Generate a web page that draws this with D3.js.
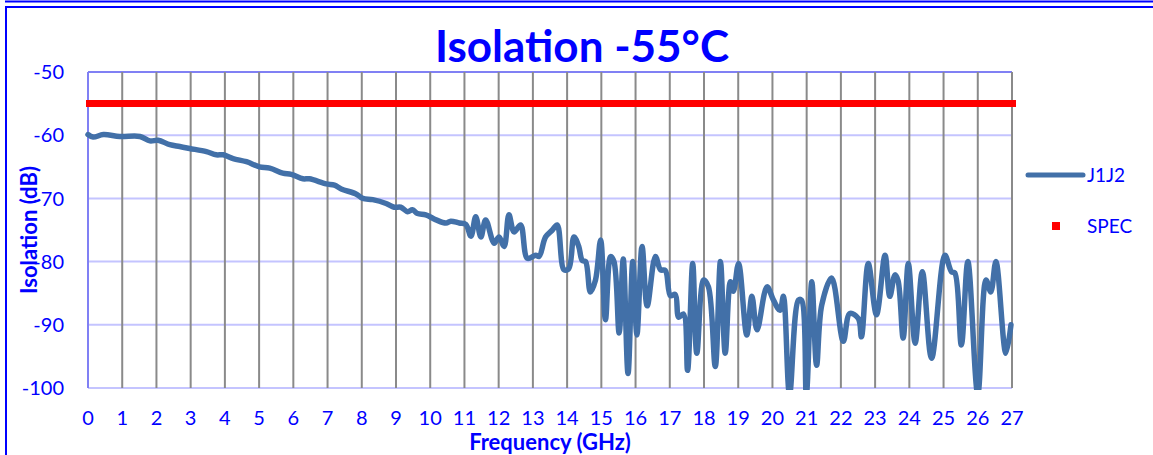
<!DOCTYPE html>
<meta charset="utf-8">
<script src="https://d3js.org/d3.v7.min.js"></script>
<style>
  body { margin: 0; background: #fff; }
  text { font-family: Lato, "Open Sans", sans-serif; fill: #0000ff; }
  .title { font-size: 44px; font-weight: bold; }
  .axis-title { font-size: 22px; font-weight: bold; }
  .tick-label { font-size: 20px; }
  .legend-label { font-size: 19px; }
</style>
<div id="chart"></div>
<script>

// Frequency points (GHz)
var freq = [0.00, 0.15, 0.45, 0.93, 1.52, 1.81, 2.05, 2.39, 2.68, 2.97,
  3.46, 3.75, 3.95, 4.24, 4.63, 5.01, 5.31, 5.69, 5.94, 6.28,
  6.47, 6.96, 7.20, 7.40, 7.83, 8.03, 8.32, 8.71, 8.95, 9.14,
  9.34, 9.48, 9.63, 9.87, 10.17, 10.46, 10.60, 10.85, 11.04, 11.19,
  11.33, 11.48, 11.62, 11.87, 12.01, 12.16, 12.30, 12.45, 12.64, 12.84,
  13.08, 13.18, 13.37, 13.57, 13.71, 13.91, 14.05, 14.20, 14.34, 14.44,
  14.54, 14.68, 14.83, 14.98, 15.12, 15.27, 15.37, 15.52, 15.64, 15.78,
  15.92, 16.04, 16.19, 16.34, 16.58, 16.73, 16.87, 17.02, 17.16, 17.26,
  17.40, 17.52, 17.67, 17.79, 17.99, 18.13, 18.33, 18.48, 18.62, 18.77,
  18.86, 19.01, 19.25, 19.40, 19.55, 19.84, 20.03, 20.22, 20.32, 20.50,
  20.76, 20.85, 20.99, 21.15, 21.29, 21.44, 21.73, 22.07, 22.26, 22.51,
  22.60, 22.80, 23.04, 23.29, 23.43, 23.58, 23.67, 23.82, 23.97, 24.17,
  24.38, 24.65, 25.04, 25.23, 25.33, 25.52, 25.71, 26.00, 26.24, 26.38,
  26.53, 26.82, 26.97];

// J1J2 isolation (dB)
var j1j2 = [-59.9, -60.3, -59.9, -60.2, -60.2, -60.9, -60.8, -61.5, -61.8, -62.1,
  -62.6, -63.1, -63.1, -63.7, -64.2, -65.0, -65.2, -66.0, -66.2, -66.9,
  -66.9, -67.7, -67.9, -68.5, -69.3, -70.0, -70.2, -70.8, -71.4, -71.4,
  -72.1, -71.8, -72.4, -72.6, -73.4, -73.9, -73.6, -73.9, -74.1, -76.0,
  -72.9, -76.1, -73.4, -77.1, -76.1, -77.6, -72.6, -75.3, -74.2, -79.5,
  -79.0, -79.2, -76.1, -75.0, -74.2, -81.3, -81.1, -76.1, -77.6, -79.8,
  -80.0, -84.8, -82.9, -76.6, -89.2, -79.2, -80.0, -91.3, -79.6, -97.7,
  -80.0, -91.6, -77.6, -87.0, -79.2, -81.3, -81.4, -85.4, -85.2, -88.8,
  -88.3, -97.2, -80.3, -94.5, -82.9, -84.0, -96.6, -80.0, -94.5, -83.2,
  -84.7, -80.3, -91.6, -85.5, -90.8, -84.0, -86.1, -87.7, -85.5, -101.0,
  -86.1, -86.1, -101.0, -83.2, -96.4, -86.9, -82.6, -92.6, -88.2, -89.0,
  -91.9, -80.3, -88.4, -79.0, -85.5, -82.1, -83.0, -92.1, -80.3, -92.9,
  -81.6, -95.3, -79.0, -81.6, -81.8, -93.2, -80.0, -101.0, -82.9, -84.8,
  -80.0, -94.5, -90.0];

var specValue = -55;
var xTicks = d3.range(0, 28);
var yTicks = [-50, -60, -70, -80, -90, -100];
var seriesNames = ["J1J2", "SPEC"];

var width = 1153,
    height = 455;

var plot = { left: 88, right: 1012, top: 72, bottom: 388 };

var svg = d3.select("#chart")
  .append("svg")
    .attr("width", width)
    .attr("height", height);

// outer frame lines (blue, as in the slide)
svg.append("line")
  .attr("x1", 5).attr("x2", width)
  .attr("y1", 1.5).attr("y2", 1.5)
  .attr("stroke", "#0000ff").attr("stroke-width", 2);
svg.append("rect")
  .attr("x", 6).attr("y", 7)
  .attr("width", width + 10).attr("height", height + 10)
  .attr("fill", "none")
  .attr("stroke", "#0000ff").attr("stroke-width", 2);

var x = d3.scaleLinear().domain([0, 27]).range([plot.left, plot.right]);
var y = d3.scaleLinear().domain([-100, -50]).range([plot.bottom, plot.top]);

// horizontal grid
svg.append("g")
  .selectAll("line")
  .data(yTicks)
  .enter()
  .append("line")
    .attr("x1", plot.left).attr("x2", plot.right)
    .attr("y1", function(d){ return y(d); })
    .attr("y2", function(d){ return y(d); })
    .attr("stroke", function(d){ return d == -50 ? "#8080f4" : "#c4c4ff"; })
    .attr("stroke-width", 2);

// vertical grid
svg.append("g")
  .selectAll("line")
  .data(xTicks.slice(1))
  .enter()
  .append("line")
    .attr("x1", function(d){ return x(d); })
    .attr("x2", function(d){ return x(d); })
    .attr("y1", plot.top).attr("y2", plot.bottom)
    .attr("stroke", "#8a8a8a")
    .attr("stroke-width", 2);

// left axis line
svg.append("line")
  .attr("x1", plot.left).attr("x2", plot.left)
  .attr("y1", plot.top).attr("y2", plot.bottom)
  .attr("stroke", "#8080f4").attr("stroke-width", 2);

// tick labels
svg.append("g")
  .selectAll("text")
  .data(xTicks)
  .enter()
  .append("text")
    .attr("class", "tick-label")
    .attr("x", function(d){ return x(d); })
    .attr("y", 425)
    .attr("text-anchor", "middle")
    .text(function(d){ return d; });

svg.append("g")
  .selectAll("text")
  .data(yTicks)
  .enter()
  .append("text")
    .attr("class", "tick-label")
    .attr("x", 64)
    .attr("y", function(d){ return y(d); })
    .attr("dy", "0.36em")
    .attr("text-anchor", "end")
    .text(function(d){ return d; });

// clip so the dips below -100 are cut like in Excel
svg.append("clipPath")
  .attr("id", "plot-clip")
  .append("rect")
    .attr("x", plot.left - 4).attr("y", plot.top - 10)
    .attr("width", plot.right - plot.left + 8)
    .attr("height", plot.bottom - plot.top + 12);

var data = freq.map(function(f, i){ return { f: f, v: j1j2[i] }; });

var line = d3.line()
  .x(function(d){ return x(d.f); })
  .y(function(d){ return y(d.v); })
  .curve(d3.curveCatmullRom.alpha(0.5));

svg.append("path")
  .datum(data)
  .attr("clip-path", "url(#plot-clip)")
  .attr("d", line)
  .attr("fill", "none")
  .attr("stroke", "#4270a8")
  .attr("stroke-width", 5.5)
  .attr("stroke-linejoin", "round")
  .attr("stroke-linecap", "round");

// SPEC line
svg.append("line")
  .attr("x1", plot.left - 2).attr("x2", plot.right + 4)
  .attr("y1", y(specValue)).attr("y2", y(specValue))
  .attr("stroke", "#ff0000")
  .attr("stroke-width", 7);

// titles
svg.append("text")
  .attr("class", "title")
  .attr("x", 582).attr("y", 62)
  .attr("text-anchor", "middle")
  .text("Isolation -55°C");

svg.append("text")
  .attr("class", "axis-title")
  .attr("x", 550).attr("y", 450)
  .attr("text-anchor", "middle")
  .text("Frequency (GHz)");

svg.append("text")
  .attr("class", "axis-title")
  .attr("transform", "translate(37,230) rotate(-90)")
  .attr("text-anchor", "middle")
  .text("Isolation (dB)");

// legend
var legend = svg.append("g").attr("transform", "translate(1028,175)");
legend.append("line")
  .attr("x1", 0).attr("x2", 55)
  .attr("stroke", "#4270a8").attr("stroke-width", 5)
  .attr("stroke-linecap", "round");
legend.append("rect")
  .attr("x", 24).attr("y", 47)
  .attr("width", 8).attr("height", 8)
  .attr("fill", "#ff0000");
legend.selectAll(".legend-label")
  .data(seriesNames)
  .enter()
  .append("text")
    .attr("class", "legend-label")
    .attr("x", 59)
    .attr("y", function(d, i){ return i * 51; })
    .attr("dy", "0.36em")
    .text(function(d){ return d; });

</script>
